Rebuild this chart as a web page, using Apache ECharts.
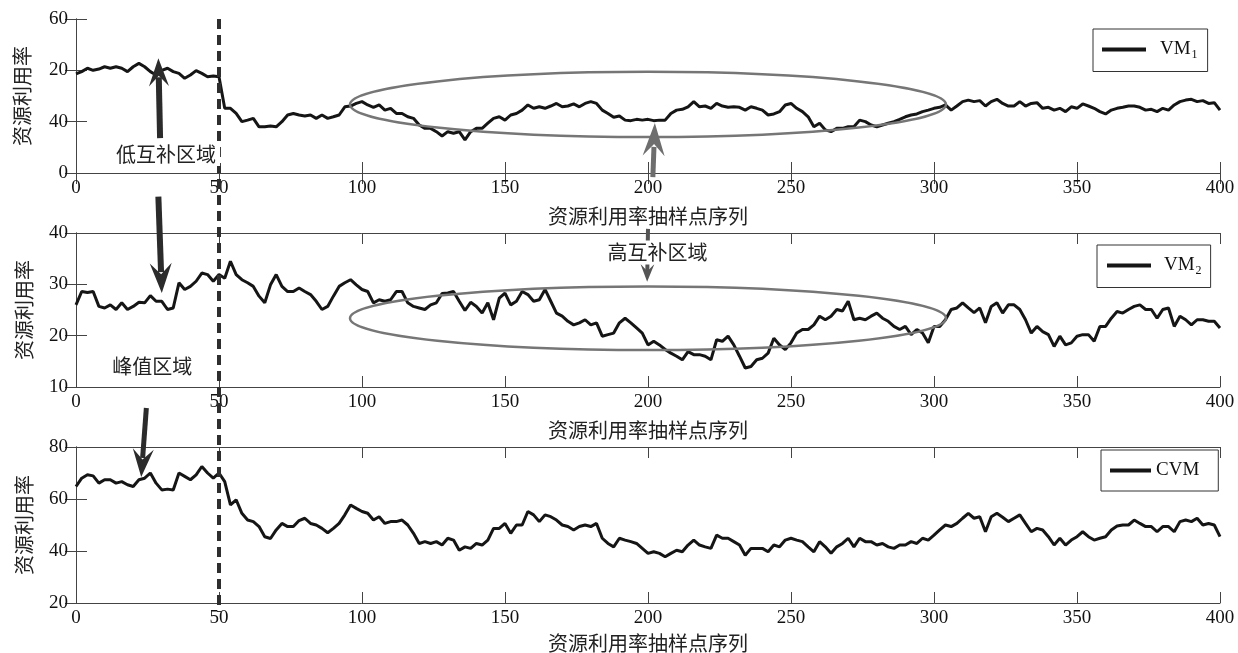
<!DOCTYPE html>
<html>
<head>
<meta charset="utf-8">
<script src="https://cdn.jsdelivr.net/npm/echarts@6/dist/echarts.min.js"></script>
<style>
  html, body { margin: 0; padding: 0; background: #fff; }
  #main { width: 1238px; height: 653px; }
</style>
</head>
<body>
<div id="main"></div>
<script>
// samples are read every 2 points along the x axis (0..400)
var sampleStep = 2;

var vm1 = [
  38.6, 39.5, 40.8, 40, 40.5, 41.4, 40.8, 41.4, 40.8, 39.5,
  41.4, 42.7, 41.4, 39.5, 38.2, 40, 40.8, 39.5, 38.8, 36.9,
  38.2, 39.9, 38.8, 37.5, 37.8, 37.5, 25.2, 25.2, 23.2, 20,
  20.6, 21.3, 18, 18, 18.3, 18, 20, 22.6, 23.2, 22.6,
  22.2, 22.6, 21.3, 22.6, 21.3, 21.9, 22.6, 25.8, 26.1, 27.1,
  27.8, 26.5, 25.6, 26.5, 24.5, 25.2, 23.2, 23.2, 21.9, 21.3,
  18.7, 17.4, 17.4, 16.1, 14.4, 16.1, 15.5, 16.1, 12.9, 16.1,
  17.4, 17.4, 19.4, 21.3, 21.9, 20.6, 22.6, 23.2, 24.5, 26.5,
  25.2, 25.8, 25.2, 26.1, 27.1, 25.8, 26.1, 26.9, 25.8, 27.1,
  27.8, 27.1, 24.5, 23.2, 21.7, 22.2, 20.6, 20.4, 20.9, 20.6,
  20.9, 20.4, 20.6, 20.6, 23.2, 24.5, 24.8, 25.8, 27.8, 25.8,
  26.1, 25.2, 27.1, 26.1, 25.6, 25.8, 25.6, 24.5, 25.8, 25.2,
  24.5, 22.6, 23, 23.9, 26.5, 27.1, 25.2, 23.9, 21.9, 18,
  19.4, 16.8, 16.1, 17.4, 17.4, 18, 18, 20.6, 20, 18.7,
  18, 18.7, 19.4, 20, 20.9, 21.9, 22.6, 23, 23.9, 24.5,
  25.2, 25.6, 26.5, 24.5, 26.1, 27.8, 28.4, 27.8, 28.2, 26.1,
  27.8, 28.7, 27.1, 26.1, 26.1, 27.8, 26.1, 27.1, 27.4, 25.2,
  25.6, 24.5, 25.2, 23.9, 25.8, 25.2, 26.9, 26.1, 25.2, 23.9,
  23, 24.5, 25.2, 25.6, 26.1, 26.1, 25.6, 24.5, 24.8, 23.9,
  25.2, 24.5, 26.5, 27.8, 28.4, 28.7, 27.8, 28.2, 27.1, 27.4,
  24.5
];

var vm2 = [
  26, 28.6, 28.4, 28.6, 25.7, 25.4, 26, 25.1, 26.4, 25.1,
  25.7, 26.5, 26.4, 27.8, 26.7, 26.7, 25.1, 25.4, 30.3, 29,
  29.6, 30.6, 32.2, 31.9, 30.6, 31.9, 31.2, 34.5, 31.9, 30.9,
  30.3, 29.6, 27.7, 26.4, 29.9, 31.9, 29.6, 28.6, 28.6, 29.3,
  28.6, 28, 26.7, 25.1, 25.7, 27.7, 29.6, 30.3, 30.9, 29.9,
  29, 28.6, 26.4, 27, 26.7, 27, 28.6, 28.6, 26.4, 25.7,
  25.4, 25.1, 26, 26.4, 28.2, 28.3, 28.6, 26.7, 24.9, 26.5,
  25.7, 24.4, 26.4, 23.1, 27.3, 28.3, 26, 26.7, 28.6, 28,
  26.7, 27, 29, 26.7, 24.4, 23.8, 22.8, 22.1, 22.5, 23.1,
  22.1, 22.5, 19.9, 20.2, 20.5, 22.5, 23.4, 22.5, 21.5, 20.5,
  18.2, 18.9, 18.2, 17.3, 16.6, 16, 15.3, 16.9, 16.3, 16.3,
  16, 15.3, 19.2, 18.9, 19.9, 18.2, 16, 13.7, 14, 15.3,
  15.6, 16.6, 19.5, 18.2, 17.3, 18.6, 20.5, 21.2, 21.2, 22.1,
  23.8, 23.1, 23.8, 25.1, 24.8, 26.7, 23.1, 23.4, 23.1, 23.8,
  24.4, 23.4, 22.8, 21.8, 21.2, 21.8, 20.2, 21.2, 20.5, 18.6,
  21.8, 21.8, 23.1, 25.1, 25.4, 26.4, 25.4, 24.5, 25.4, 22.5,
  25.7, 26.4, 24.4, 26, 26, 25.1, 23.1, 20.5, 21.8, 20.8,
  20.2, 17.9, 19.9, 18.2, 18.6, 19.9, 20.2, 20.2, 18.9, 21.8,
  21.8, 23.4, 24.7, 24.4, 25.1, 25.7, 26, 25.1, 25.1, 23.4,
  25.1, 25.4, 21.8, 23.8, 23.1, 22.1, 23.1, 23.1, 22.8, 22.8,
  21.5
];

var cvm = [
  64.8, 68, 69.3, 68.9, 66.1, 67.4, 67.4, 66.1, 66.7, 65.5,
  64.8, 67.4, 68, 70, 66.1, 63.5, 63.8, 63.5, 70, 68.7,
  67.4, 69.3, 72.5, 70, 68, 70, 66.7, 57.7, 59.7, 54.5,
  51.9, 51.3, 49.4, 45.5, 44.8, 48.1, 50.6, 49.4, 49.4, 51.7,
  52.6, 50.6, 50, 48.7, 47, 48.7, 50.6, 53.9, 57.7, 56.4,
  55.2, 54.5, 51.9, 53.2, 50.6, 51.3, 51.3, 51.9, 50, 46.8,
  42.9, 43.6, 42.9, 43.6, 42.3, 44.9, 44.2, 40.3, 41.6, 41,
  42.9, 42.3, 44.2, 48.7, 48.7, 50.6, 46.8, 50, 50, 55.2,
  53.9, 51.3, 53.9, 53.2, 51.9, 50, 49.4, 48.1, 49.4, 50,
  49.4, 50.6, 44.9, 42.9, 41.6, 44.9, 44.2, 43.6, 42.9, 41,
  39.1, 39.7, 39.1, 37.8, 39.1, 40.3, 39.7, 42.3, 44.2, 42.3,
  41.6, 41, 46.1, 44.9, 44.9, 43.6, 42.3, 38.4, 41, 41,
  41, 39.7, 42.3, 41.6, 44.2, 44.9, 44.2, 43.6, 41.6, 39.7,
  43.6, 41.6, 39.1, 41.6, 42.9, 44.9, 41.6, 44.9, 43.6, 43.6,
  42.3, 42.9, 41.6, 41, 42.3, 42.3, 43.6, 42.9, 44.9, 44.2,
  46.1, 48.1, 50, 49.4, 50.6, 52.6, 54.5, 52.6, 53.2, 47.4,
  53.2, 54.5, 53, 51.3, 52.6, 53.9, 50.6, 47.4, 48.7, 48.1,
  45.5, 42.3, 44.9, 42.3, 44.2, 45.5, 47.4, 45.5, 44.2, 44.9,
  45.5, 48.1, 49.6, 50, 50, 51.9, 50.6, 49.4, 49.4, 47.4,
  49.4, 49.4, 47.4, 51.3, 51.9, 51.3, 52.6, 50, 50.6, 50,
  45.5
];

var seriesNames = ['VM1', 'VM2', 'CVM'];
var xTicks = [0, 400, 50];                  // min, max, interval
var yRanges = [[0, 60, 20], [10, 40, 10], [20, 80, 20]];
// the top panel's tick labels are printed in this order in the original figure
var topTickLabels = ['0', '40', '20', '60'];
var legendLabels = { VM1: ['VM', '1'], VM2: ['VM', '2'], CVM: ['CVM', ''] };

var xName = '资源利用率抽样点序列';
var yName = '资源利用率';

// annotations, in data coordinates of the panel they sit in
var dividerX = 50;
var notes = [
  { panel: 0, at: [31.5, 7.4], text: '低互补区域' },
  { panel: 1, at: [26.7, 14.0], text: '峰值区域' },
  { panel: 1, at: [203.3, 36.2], text: '高互补区域' }
];
var arrows = [
  { panel: 0, from: [29.4, 13.6], to: [28.8, 44.7], color: '#2b2b2b', shaft: 6, head: 25, wing: 10 },
  { panel: 1, from: [28.8, 47.1], to: [30.0, 28.3], color: '#2b2b2b', shaft: 6, head: 27, wing: 11 },
  { panel: 2, from: [24.6, 95.0], to: [22.8, 68.5], color: '#2b2b2b', shaft: 5, head: 25, wing: 10.5 },
  { panel: 0, from: [201.7, -1.6], to: [202.4, 19.5], color: '#6e6e6e', shaft: 5, head: 30, wing: 11 },
  { panel: 1, from: [200.0, 40.8], to: [199.7, 30.5], color: '#555555', shaft: 4, head: 15, wing: 7 }
];
var rings = [
  { panel: 0, center: [200, 26.7], radius: [104.2, 12.7] },
  { panel: 1, center: [200, 23.4], radius: [104.2, 6.2] }
];

function pairs(values) {
  var out = [];
  for (var i = 0; i < values.length; i++) {
    out.push([i * sampleStep, values[i]]);
  }
  return out;
}

var chartDom = document.getElementById('main');
var myChart = echarts.init(chartDom, null, { renderer: 'canvas' });

var numFont = 'Liberation Serif';
var cjkFont = 'Noto Sans CJK SC';
var axisColor = '#444';
var grids = [
  { left: 76, right: 18, top: 19, height: 154 },
  { left: 76, right: 18, top: 233, height: 154 },
  { left: 76, right: 18, top: 447, height: 156 }
];
var xNameGaps = [33, 33, 30];
var yNameGaps = [44, 42, 42];
var legendBoxes = [
  { left: 1093, top: 29, padding: [11, 10, 11, 9], itemWidth: 44, gap: 9 },
  { left: 1097, top: 245, padding: [11, 9, 11, 10], itemWidth: 44, gap: 8 },
  { left: 1101, top: 450, padding: [11, 19, 11, 9], itemWidth: 41, gap: 0 }
];

var xAxes = [], yAxes = [], series = [], legends = [];
var datasets = [vm1, vm2, cvm];

for (var k = 0; k < 3; k++) {
  xAxes.push({
    type: 'value', gridIndex: k, min: xTicks[0], max: xTicks[1], interval: xTicks[2],
    name: xName, nameLocation: 'middle', nameGap: xNameGaps[k],
    nameTextStyle: { fontFamily: cjkFont, fontSize: 20, color: '#222' },
    axisLine: { show: true, lineStyle: { color: axisColor, width: 1 } },
    axisTick: { show: true, inside: true, length: 11, lineStyle: { color: axisColor } },
    axisLabel: { fontFamily: numFont, fontSize: 19, color: '#111', margin: 6, showMinLabel: true, showMaxLabel: true },
    splitLine: { show: false }
  });
  yAxes.push({
    type: 'value', gridIndex: k, min: yRanges[k][0], max: yRanges[k][1], interval: yRanges[k][2],
    name: yName, nameLocation: 'middle', nameGap: yNameGaps[k],
    nameTextStyle: { fontFamily: cjkFont, fontSize: 20, color: '#222' },
    axisLine: { show: true, lineStyle: { color: axisColor, width: 1 } },
    axisTick: { show: true, inside: true, length: 11, lineStyle: { color: axisColor } },
    axisLabel: {
      fontFamily: numFont, fontSize: 19, color: '#111', margin: 8,
      showMinLabel: true, showMaxLabel: true,
      formatter: k === 0 ? function (v) { return topTickLabels[Math.round(v / 20)]; } : null
    },
    splitLine: { show: false }
  });
  series.push({
    name: seriesNames[k],
    type: 'line',
    xAxisIndex: k,
    yAxisIndex: k,
    data: pairs(datasets[k]),
    showSymbol: false,
    symbol: 'none',
    smooth: false,
    color: '#151515',
    lineStyle: { color: '#151515', width: 3 },
    z: 3
  });
  var lb = legendBoxes[k];
  legends.push({
    data: [seriesNames[k]],
    left: lb.left, top: lb.top, orient: 'horizontal',
    padding: lb.padding,
    backgroundColor: '#fff',
    borderColor: '#333', borderWidth: 1, borderRadius: 0,
    icon: 'rect', itemWidth: lb.itemWidth, itemHeight: 4,
    selectedMode: false,
    formatter: function (name) {
      var p = legendLabels[name];
      return p[1] ? '{m|' + p[0] + '}{s|' + p[1] + '}' : '{m|' + p[0] + '}';
    },
    textStyle: {
      fontFamily: numFont, fontSize: 19, color: '#111',
      rich: {
        m: { fontFamily: numFont, fontSize: 19, color: '#111', padding: [0, 0, 0, lb.gap] },
        s: { fontFamily: numFont, fontSize: 12, color: '#111', padding: [10, 0, 0, 1] }
      }
    }
  });
}

// mirrored box axes on top and right, ticks only
for (var j = 0; j < 3; j++) {
  xAxes.push({
    type: 'value', gridIndex: j, position: 'top', min: xTicks[0], max: xTicks[1], interval: xTicks[2],
    axisLine: { show: true, lineStyle: { color: axisColor, width: 1 } },
    axisTick: { show: true, inside: true, length: 11, lineStyle: { color: axisColor } },
    axisLabel: { show: false }, splitLine: { show: false }
  });
  yAxes.push({
    type: 'value', gridIndex: j, position: 'right', min: yRanges[j][0], max: yRanges[j][1], interval: yRanges[j][2],
    axisLine: { show: true, lineStyle: { color: axisColor, width: 1 } },
    axisTick: { show: true, inside: true, length: 11, lineStyle: { color: axisColor } },
    axisLabel: { show: false }, splitLine: { show: false }
  });
}

var option = {
  animation: false,
  backgroundColor: '#fff',
  grid: grids.map(function (g) {
    return { left: g.left, right: g.right, top: g.top, height: g.height, containLabel: false, outerBoundsMode: 'none' };
  }),
  xAxis: xAxes,
  yAxis: yAxes,
  legend: legends,
  series: series
};

myChart.setOption(option);

// annotations placed through the panels' own scales
function px(panel, pt) {
  return myChart.convertToPixel({ seriesIndex: panel }, pt);
}

var graphics = [];

var dTop = px(0, [dividerX, 60]);
var dBot = px(2, [dividerX, 16.5]);
graphics.push({
  type: 'line', z: 20,
  shape: { x1: dTop[0], y1: dTop[1], x2: dBot[0], y2: dBot[1] },
  style: { stroke: '#2e2e2e', lineWidth: 4, lineDash: [10, 6] }
});

rings.forEach(function (r) {
  var c = px(r.panel, r.center);
  var e = px(r.panel, [r.center[0] + r.radius[0], r.center[1] + r.radius[1]]);
  graphics.push({
    type: 'ellipse', z: 15,
    shape: { cx: c[0], cy: c[1], rx: Math.abs(e[0] - c[0]), ry: Math.abs(e[1] - c[1]) },
    style: { stroke: '#767676', lineWidth: 2.5, fill: null }
  });
});

arrows.forEach(function (a) {
  var p0 = px(a.panel, a.from);
  var p1 = px(a.panel, a.to);
  var dx = p1[0] - p0[0], dy = p1[1] - p0[1];
  var len = Math.sqrt(dx * dx + dy * dy);
  var ux = dx / len, uy = dy / len;
  var nx = -uy, ny = ux;
  var bx = p1[0] - ux * a.head, by = p1[1] - uy * a.head;
  graphics.push({
    type: 'line', z: 21,
    shape: { x1: p0[0], y1: p0[1], x2: bx + ux * 6, y2: by + uy * 6 },
    style: { stroke: a.color, lineWidth: a.shaft }
  });
  graphics.push({
    type: 'polygon', z: 21,
    shape: {
      points: [
        [p1[0], p1[1]],
        [bx - ux * 3 + nx * a.wing, by - uy * 3 + ny * a.wing],
        [bx + ux * a.head * 0.3, by + uy * a.head * 0.3],
        [bx - ux * 3 - nx * a.wing, by - uy * 3 - ny * a.wing]
      ]
    },
    style: { fill: a.color }
  });
});

notes.forEach(function (n) {
  var p = px(n.panel, n.at);
  graphics.push({
    type: 'text', z: 25, x: p[0], y: p[1],
    style: {
      text: n.text, fontFamily: cjkFont, fontSize: 20, fill: '#222',
      align: 'center', verticalAlign: 'middle',
      backgroundColor: '#fff', padding: [2, 4]
    }
  });
});

myChart.setOption({ graphic: graphics });
</script>
</body>
</html>
